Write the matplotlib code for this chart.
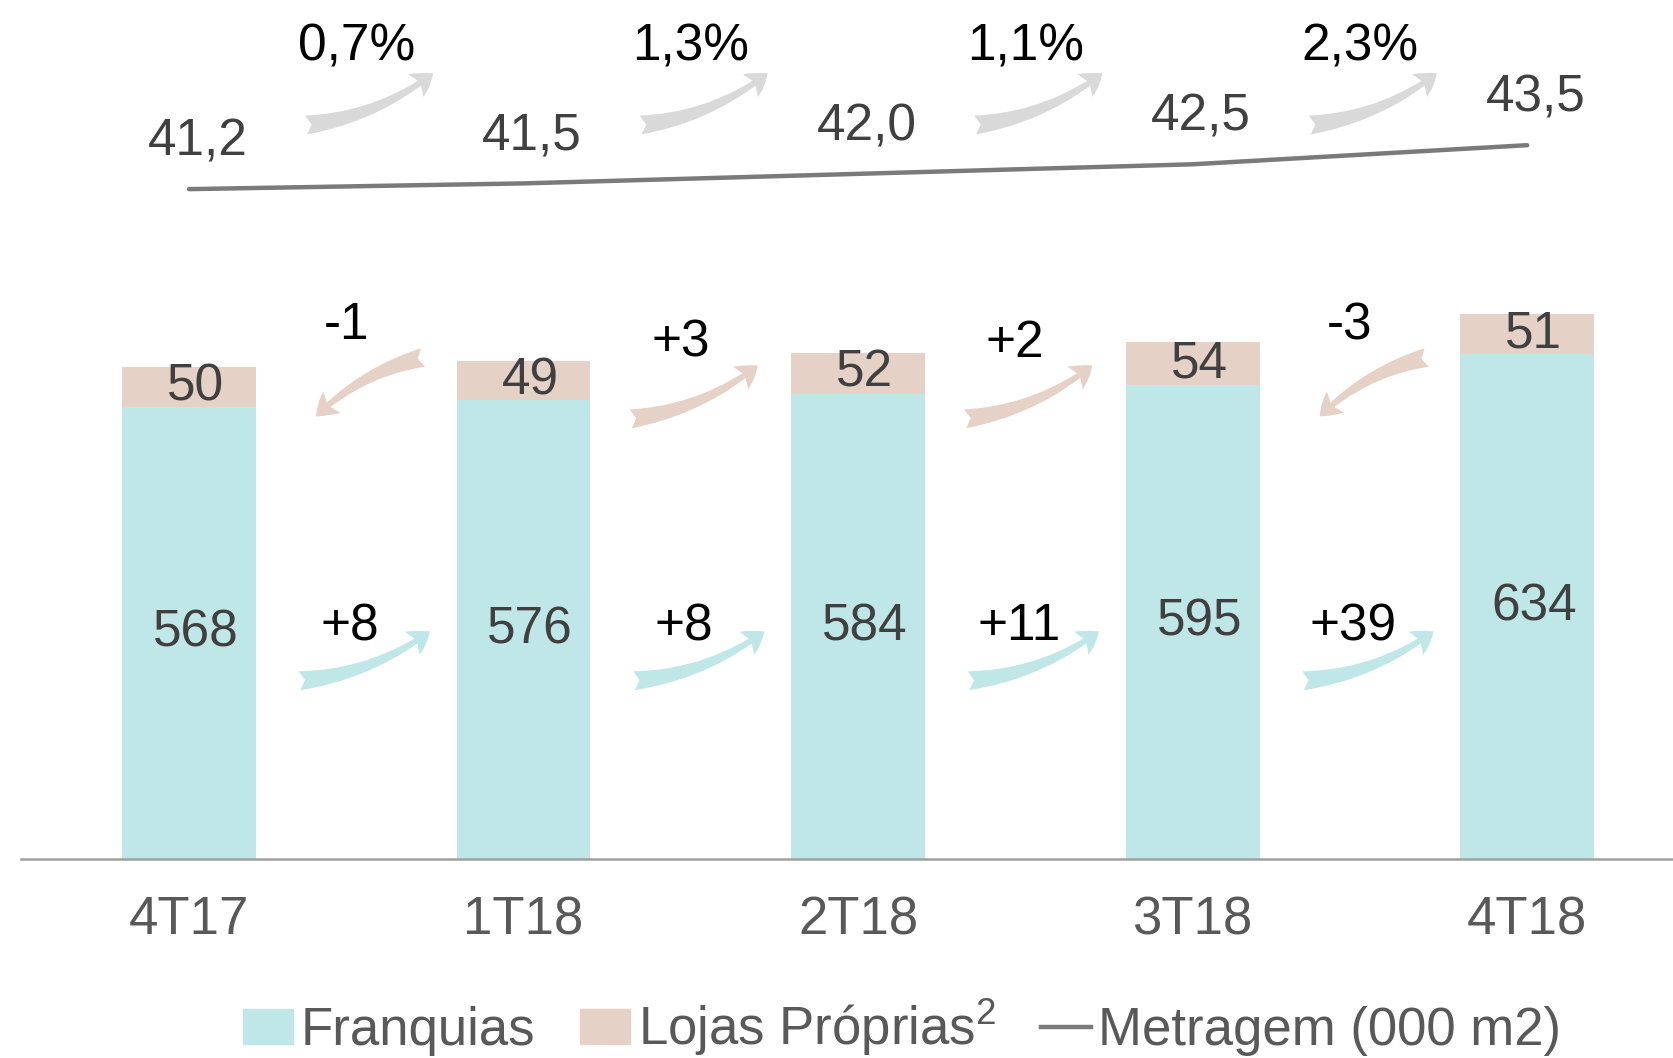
import numpy as np
import matplotlib.pyplot as plt
from matplotlib.patches import FancyArrowPatch, Patch
from matplotlib.lines import Line2D

plt.rcParams['font.family'] = ['Liberation Sans', 'DejaVu Sans']
plt.rcParams['mathtext.default'] = 'regular'

quarters = ['4T17', '1T18', '2T18', '3T18', '4T18']
franquias = [568, 576, 584, 595, 634]
lojas = [50, 49, 52, 54, 51]
metragem = [41.2, 41.5, 42.0, 42.5, 43.5]
metragem_pct = ['0,7%', '1,3%', '1,1%', '2,3%']

teal = '#C0E7E8'
beige = '#E6D1C7'
arrow_gray = '#D9D9D9'

x = np.arange(len(quarters))

fig = plt.figure(figsize=(16.73, 10.58), dpi=100)
ax = fig.add_axes([0.0126, 0.188, 0.9874, 0.812])

ax.bar(x, franquias, width=0.4, color=teal)
ax.bar(x, lojas, width=0.4, bottom=franquias, color=beige)

for i in range(len(x)):
    ax.text(x[i] + 0.02, franquias[i] / 2, str(franquias[i]), ha='center', va='center',
            fontsize=37, color='#404040')
    ax.text(x[i] + 0.02, franquias[i] + lojas[i] / 2, str(lojas[i]), ha='center', va='center',
            fontsize=37, color='#404040')

ax.set_xlim(-0.502, 4.436)
ax.set_ylim(0, 1079)
ax.set_yticks([])
ax.set_xticks(x)
ax.set_xticklabels(quarters, fontsize=38, color='#595959')
ax.tick_params(axis='x', length=0, pad=26)
for s in ['top', 'right', 'left']:
    ax.spines[s].set_visible(False)
ax.spines['bottom'].set_color('#A0A0A0')
ax.spines['bottom'].set_linewidth(1.8)

# metragem line on its own scale
ax2 = ax.twinx()
ax2.plot(x, metragem, color='#7A7A7A', lw=3.2, solid_capstyle='round')
ax2.set_ylim(6.13, 51.1)
ax2.set_yticks([])
for s in ax2.spines.values():
    s.set_visible(False)
for i in range(len(x)):
    ax2.annotate(f'{metragem[i]:.1f}'.replace('.', ','), (x[i], metragem[i]),
                 xytext=(6, 34), textcoords='offset points', ha='center', va='center',
                 fontsize=37, color='#404040')


def curved_arrow(start, end, color):
    ax.add_patch(FancyArrowPatch(start, end,
                                 arrowstyle='fancy,head_length=0.9,head_width=1.15,tail_width=0.8',
                                 mutation_scale=17, connectionstyle='arc3,rad=0.14',
                                 color=color, lw=0, shrinkA=0, shrinkB=0))


for i in range(len(x) - 1):
    mid = (x[i] + x[i + 1]) / 2
    # metragem growth
    curved_arrow((mid - 0.15, 922), (mid + 0.23, 987), arrow_gray)
    ax.text(mid, 1020, metragem_pct[i], ha='center', va='center', fontsize=37, color='black')
    # lojas proprias change
    d = lojas[i + 1] - lojas[i]
    if d >= 0:
        curved_arrow((mid - 0.18, 553), (mid + 0.2, 620), beige)
        ty = 648
    else:
        curved_arrow((mid + 0.2, 630), (mid - 0.12, 556), beige)
        ty = 670
    ax.text(mid - 0.03, ty, f'{d:+d}', ha='center', va='center', fontsize=37, color='black')
    # franquias change
    d = franquias[i + 1] - franquias[i]
    curved_arrow((mid - 0.17, 224), (mid + 0.22, 286), teal)
    ax.text(mid - 0.02, 292, f'{d:+d}', ha='center', va='center', fontsize=37, color='black')

handles = [Patch(color=teal, label='Franquias'),
           Patch(color=beige, label='Lojas Próprias$^{2}$'),
           Line2D([], [], color='#7A7A7A', lw=3.2, label='Metragem (000 m2)')]
leg = fig.legend(handles=handles, loc='lower left', bbox_to_anchor=(0.1453, 0.0), ncol=3,
                 frameon=False, borderpad=0, borderaxespad=0, handlelength=0.95,
                 handleheight=0.65, handletextpad=0.14, columnspacing=0.85,
                 prop={'size': 38})
for t in leg.get_texts():
    t.set_color('#595959')

fig.savefig('out.png', dpi=100)
